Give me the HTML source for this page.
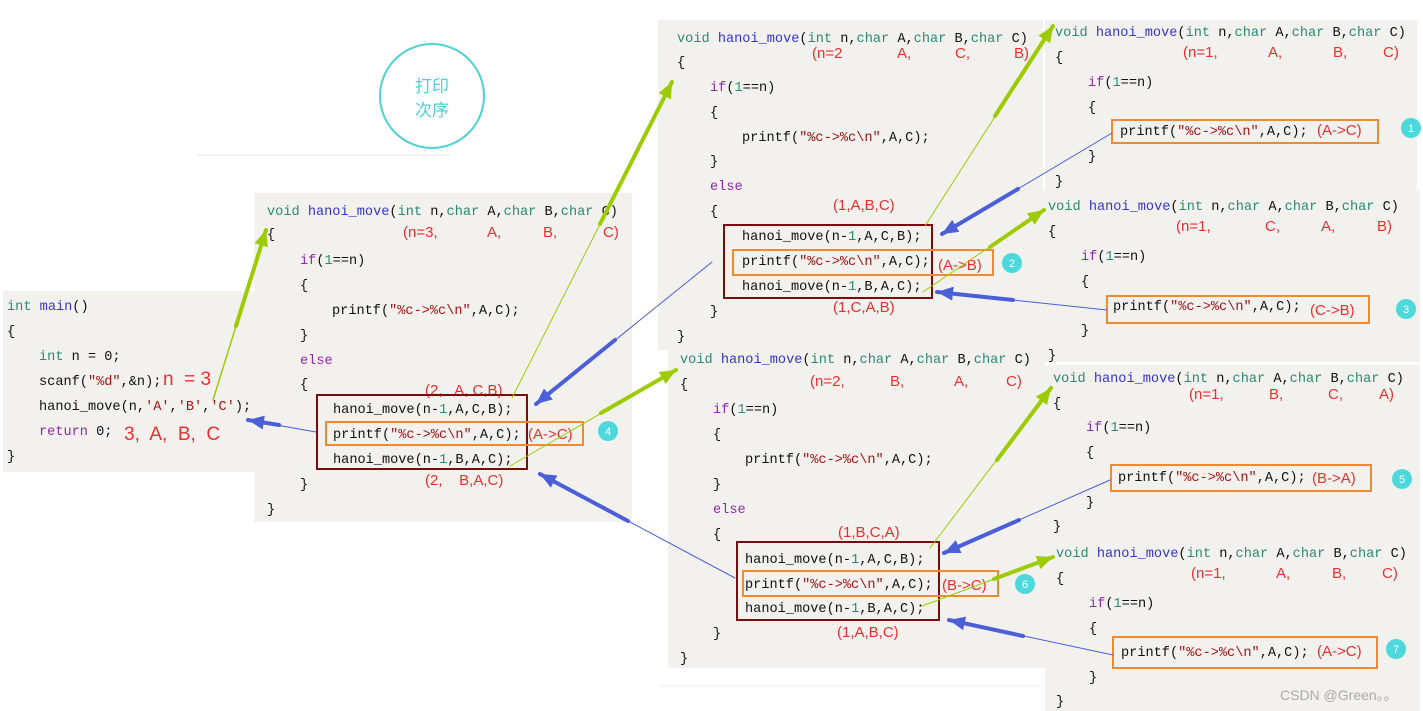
<!DOCTYPE html>
<html><head><meta charset="utf-8"><style>
html,body{margin:0;padding:0;background:#fff;}
svg{display:block;}
.c{font-family:"Liberation Mono",monospace;font-size:13.6px;fill:#111;white-space:pre;}
.k{fill:#2b8a6e}.f{fill:#3434d0}.p{fill:#8f2aa8}.s{fill:#a31515}.n{fill:#2b8a6e}
.r{font-family:"Liberation Sans",sans-serif;font-size:15px;fill:#e8302f;white-space:pre;}
.num{font-family:"Liberation Sans",sans-serif;font-size:11px;fill:#fff;text-anchor:middle;}
</style></head><body>
<svg width="1423" height="711" viewBox="0 0 1423 711" xmlns="http://www.w3.org/2000/svg">
<defs>
<marker id="mg" markerUnits="userSpaceOnUse" markerWidth="18" markerHeight="14" refX="16" refY="7" orient="auto"><path d="M0,0 L16,7 L0,14 Z" fill="#9ccc00"/></marker>
<marker id="mb" markerUnits="userSpaceOnUse" markerWidth="18" markerHeight="14" refX="16" refY="7" orient="auto"><path d="M0,0 L16,7 L0,14 Z" fill="#4a5fd8"/></marker>
</defs>
<!-- panels -->
<g fill="#f2f1ee">
<rect x="3" y="291" width="253" height="181"/>
<rect x="254" y="193" width="378" height="329"/>
<rect x="658" y="20" width="385" height="330"/>
<rect x="668" y="350" width="377" height="318"/>
<rect x="1045" y="20" width="372" height="170"/>
<rect x="1043" y="190" width="377" height="172"/>
<rect x="1045" y="365" width="375" height="175"/>
<rect x="1045" y="540" width="375" height="171"/>
</g>
<line x1="197" y1="155" x2="450" y2="155" stroke="#eee" stroke-width="1.5"/>
<line x1="660" y1="686" x2="1040" y2="686" stroke="#eee" stroke-width="1"/>
<circle cx="432" cy="96" r="52" fill="none" stroke="#4dd0d6" stroke-width="2"/>
<text x="432" y="92" text-anchor="middle" style="font-family:'Noto Sans CJK SC',sans-serif;font-size:17px;fill:#4dd0d6">打印</text>
<text x="432" y="116" text-anchor="middle" style="font-family:'Noto Sans CJK SC',sans-serif;font-size:17px;fill:#4dd0d6">次序</text>

<!-- main -->
<text class="c" x="7" y="310"><tspan class="k">int</tspan> <tspan class="f">main</tspan>()</text>
<text class="c" x="7" y="335">{</text>
<text class="c" x="39" y="360"><tspan class="k">int</tspan> n = 0;</text>
<text class="c" x="39" y="385">scanf(<tspan class="s">"%d"</tspan>,&amp;n);</text>
<text class="c" x="39" y="410">hanoi_move(n,<tspan class="s">'A'</tspan>,<tspan class="s">'B'</tspan>,<tspan class="s">'C'</tspan>);</text>
<text class="c" x="39" y="435"><tspan class="p">return</tspan> 0;</text>
<text class="c" x="7" y="460">}</text>
<text class="r" x="163" y="385" style="font-size:19px">n  = 3</text>
<text class="r" x="124" y="440" style="font-size:19px">3,  A,  B,  C</text>

<!-- P3 -->
<text class="c" x="267" y="215"><tspan class="k">void</tspan> <tspan class="f">hanoi_move</tspan>(<tspan class="k">int</tspan> n,<tspan class="k">char</tspan> A,<tspan class="k">char</tspan> B,<tspan class="k">char</tspan> C)</text>
<text class="c" x="267" y="238">{</text>
<text class="c" x="300" y="264"><tspan class="p">if</tspan>(<tspan class="n">1</tspan>==n)</text>
<text class="c" x="300" y="289">{</text>
<text class="c" x="332" y="314">printf(<tspan class="s">"%c-&gt;%c\n"</tspan>,A,C);</text>
<text class="c" x="300" y="339">}</text>
<text class="c p" x="300" y="364">else</text>
<text class="c" x="300" y="388">{</text>
<text class="c" x="333" y="413">hanoi_move(n-<tspan class="n">1</tspan>,A,C,B);</text>
<text class="c" x="333" y="438">printf(<tspan class="s">"%c-&gt;%c\n"</tspan>,A,C);</text>
<text class="c" x="333" y="463">hanoi_move(n-<tspan class="n">1</tspan>,B,A,C);</text>
<text class="c" x="300" y="488">}</text>
<text class="c" x="267" y="513">}</text>
<text class="r" x="403" y="237">(n=3,</text><text class="r" x="487" y="237">A,</text><text class="r" x="543" y="237">B,</text><text class="r" x="603" y="237">C)</text>
<text class="r" x="425" y="395">(2,   A, C,B)</text>
<text class="r" x="425" y="485">(2,    B,A,C)</text>
<rect x="317" y="395" width="210" height="74" fill="none" stroke="#7b0c0c" stroke-width="2"/>
<rect x="326" y="422" width="257" height="23" fill="none" stroke="#f08a30" stroke-width="2"/>
<text class="r" x="528" y="439">(A-&gt;C)</text>
<circle cx="608" cy="431" r="10" fill="#4dd8dc"/><text class="num" x="608" y="435">4</text>

<!-- P2a -->
<text class="c" x="677" y="42"><tspan class="k">void</tspan> <tspan class="f">hanoi_move</tspan>(<tspan class="k">int</tspan> n,<tspan class="k">char</tspan> A,<tspan class="k">char</tspan> B,<tspan class="k">char</tspan> C)</text>
<text class="c" x="677" y="66">{</text>
<text class="c" x="710" y="91"><tspan class="p">if</tspan>(<tspan class="n">1</tspan>==n)</text>
<text class="c" x="710" y="116">{</text>
<text class="c" x="742" y="141">printf(<tspan class="s">"%c-&gt;%c\n"</tspan>,A,C);</text>
<text class="c" x="710" y="165">}</text>
<text class="c p" x="710" y="190">else</text>
<text class="c" x="710" y="215">{</text>
<text class="c" x="742" y="240">hanoi_move(n-<tspan class="n">1</tspan>,A,C,B);</text>
<text class="c" x="742" y="265">printf(<tspan class="s">"%c-&gt;%c\n"</tspan>,A,C);</text>
<text class="c" x="742" y="290">hanoi_move(n-<tspan class="n">1</tspan>,B,A,C);</text>
<text class="c" x="710" y="315">}</text>
<text class="c" x="677" y="340">}</text>
<text class="r" x="812" y="58">(n=2</text><text class="r" x="897" y="58">A,</text><text class="r" x="955" y="58">C,</text><text class="r" x="1014" y="58">B)</text>
<text class="r" x="833" y="210">(1,A,B,C)</text>
<text class="r" x="833" y="312">(1,C,A,B)</text>
<rect x="724" y="225" width="208" height="73" fill="none" stroke="#7b0c0c" stroke-width="2"/>
<rect x="733" y="250" width="260" height="25" fill="none" stroke="#f08a30" stroke-width="2"/>
<text class="r" x="938" y="270">(A-&gt;B)</text>
<circle cx="1012" cy="263" r="10" fill="#4dd8dc"/><text class="num" x="1012" y="267">2</text>

<!-- P2b -->
<text class="c" x="680" y="363"><tspan class="k">void</tspan> <tspan class="f">hanoi_move</tspan>(<tspan class="k">int</tspan> n,<tspan class="k">char</tspan> A,<tspan class="k">char</tspan> B,<tspan class="k">char</tspan> C)</text>
<text class="c" x="680" y="388">{</text>
<text class="c" x="713" y="413"><tspan class="p">if</tspan>(<tspan class="n">1</tspan>==n)</text>
<text class="c" x="713" y="438">{</text>
<text class="c" x="745" y="463">printf(<tspan class="s">"%c-&gt;%c\n"</tspan>,A,C);</text>
<text class="c" x="713" y="488">}</text>
<text class="c p" x="713" y="513">else</text>
<text class="c" x="713" y="538">{</text>
<text class="c" x="745" y="563">hanoi_move(n-<tspan class="n">1</tspan>,A,C,B);</text>
<text class="c" x="745" y="588">printf(<tspan class="s">"%c-&gt;%c\n"</tspan>,A,C);</text>
<text class="c" x="745" y="612">hanoi_move(n-<tspan class="n">1</tspan>,B,A,C);</text>
<text class="c" x="713" y="637">}</text>
<text class="c" x="680" y="662">}</text>
<text class="r" x="810" y="386">(n=2,</text><text class="r" x="890" y="386">B,</text><text class="r" x="954" y="386">A,</text><text class="r" x="1006" y="386">C)</text>
<text class="r" x="838" y="537">(1,B,C,A)</text>
<text class="r" x="837" y="637">(1,A,B,C)</text>
<rect x="737" y="542" width="202" height="78" fill="none" stroke="#7b0c0c" stroke-width="2"/>
<rect x="743" y="571" width="255" height="25" fill="none" stroke="#f08a30" stroke-width="2"/>
<text class="r" x="942" y="590">(B-&gt;C)</text>
<circle cx="1025" cy="584" r="10" fill="#4dd8dc"/><text class="num" x="1025" y="588">6</text>

<!-- P1a -->
<text class="c" x="1055" y="36"><tspan class="k">void</tspan> <tspan class="f">hanoi_move</tspan>(<tspan class="k">int</tspan> n,<tspan class="k">char</tspan> A,<tspan class="k">char</tspan> B,<tspan class="k">char</tspan> C)</text>
<text class="c" x="1055" y="61">{</text>
<text class="c" x="1088" y="86"><tspan class="p">if</tspan>(<tspan class="n">1</tspan>==n)</text>
<text class="c" x="1088" y="111">{</text>
<text class="c" x="1120" y="135">printf(<tspan class="s">"%c-&gt;%c\n"</tspan>,A,C);</text>
<text class="c" x="1088" y="160">}</text>
<text class="c" x="1055" y="185">}</text>
<text class="r" x="1183" y="57">(n=1,</text><text class="r" x="1268" y="57">A,</text><text class="r" x="1333" y="57">B,</text><text class="r" x="1383" y="57">C)</text>
<rect x="1112" y="120" width="266" height="23" fill="none" stroke="#f08a30" stroke-width="2"/>
<text class="r" x="1317" y="135">(A-&gt;C)</text>
<circle cx="1411" cy="128" r="10" fill="#4dd8dc"/><text class="num" x="1411" y="132">1</text>

<!-- P1b -->
<text class="c" x="1048" y="210"><tspan class="k">void</tspan> <tspan class="f">hanoi_move</tspan>(<tspan class="k">int</tspan> n,<tspan class="k">char</tspan> A,<tspan class="k">char</tspan> B,<tspan class="k">char</tspan> C)</text>
<text class="c" x="1048" y="235">{</text>
<text class="c" x="1081" y="260"><tspan class="p">if</tspan>(<tspan class="n">1</tspan>==n)</text>
<text class="c" x="1081" y="285">{</text>
<text class="c" x="1113" y="310">printf(<tspan class="s">"%c-&gt;%c\n"</tspan>,A,C);</text>
<text class="c" x="1081" y="334">}</text>
<text class="c" x="1048" y="359">}</text>
<text class="r" x="1176" y="231">(n=1,</text><text class="r" x="1265" y="231">C,</text><text class="r" x="1321" y="231">A,</text><text class="r" x="1377" y="231">B)</text>
<rect x="1107" y="296" width="262" height="27" fill="none" stroke="#f08a30" stroke-width="2"/>
<text class="r" x="1310" y="315">(C-&gt;B)</text>
<circle cx="1406" cy="309" r="10" fill="#4dd8dc"/><text class="num" x="1406" y="313">3</text>

<!-- P1c -->
<text class="c" x="1053" y="382"><tspan class="k">void</tspan> <tspan class="f">hanoi_move</tspan>(<tspan class="k">int</tspan> n,<tspan class="k">char</tspan> A,<tspan class="k">char</tspan> B,<tspan class="k">char</tspan> C)</text>
<text class="c" x="1053" y="407">{</text>
<text class="c" x="1086" y="431"><tspan class="p">if</tspan>(<tspan class="n">1</tspan>==n)</text>
<text class="c" x="1086" y="456">{</text>
<text class="c" x="1118" y="481">printf(<tspan class="s">"%c-&gt;%c\n"</tspan>,A,C);</text>
<text class="c" x="1086" y="506">}</text>
<text class="c" x="1053" y="530">}</text>
<text class="r" x="1189" y="399">(n=1,</text><text class="r" x="1269" y="399">B,</text><text class="r" x="1328" y="399">C,</text><text class="r" x="1379" y="399">A)</text>
<rect x="1111" y="465" width="260" height="26" fill="none" stroke="#f08a30" stroke-width="2"/>
<text class="r" x="1312" y="483">(B-&gt;A)</text>
<circle cx="1402" cy="479" r="10" fill="#4dd8dc"/><text class="num" x="1402" y="483">5</text>

<!-- P1d -->
<text class="c" x="1056" y="557"><tspan class="k">void</tspan> <tspan class="f">hanoi_move</tspan>(<tspan class="k">int</tspan> n,<tspan class="k">char</tspan> A,<tspan class="k">char</tspan> B,<tspan class="k">char</tspan> C)</text>
<text class="c" x="1056" y="582">{</text>
<text class="c" x="1089" y="607"><tspan class="p">if</tspan>(<tspan class="n">1</tspan>==n)</text>
<text class="c" x="1089" y="632">{</text>
<text class="c" x="1121" y="656">printf(<tspan class="s">"%c-&gt;%c\n"</tspan>,A,C);</text>
<text class="c" x="1089" y="681">}</text>
<text class="c" x="1056" y="705">}</text>
<text class="r" x="1191" y="578">(n=1,</text><text class="r" x="1276" y="578">A,</text><text class="r" x="1332" y="578">B,</text><text class="r" x="1382" y="578">C)</text>
<rect x="1113" y="637" width="264" height="31" fill="none" stroke="#f08a30" stroke-width="2"/>
<text class="r" x="1317" y="656">(A-&gt;C)</text>
<circle cx="1396" cy="649" r="10" fill="#4dd8dc"/><text class="num" x="1396" y="653">7</text>
<text x="1280" y="700" style="font-family:'Liberation Sans','Noto Sans CJK SC',sans-serif;font-size:14px;fill:#aaa">CSDN @Green。。</text>

<!-- green arrows -->
<g stroke="#9ccc00" fill="none" stroke-linecap="round">
<line x1="213" y1="400" x2="266" y2="230" stroke-width="1.5"/><line x1="236" y1="326" x2="266" y2="230" stroke-width="4" marker-end="url(#mg)"/>
<line x1="512" y1="398" x2="672" y2="82" stroke-width="1"/><line x1="600" y1="224" x2="672" y2="82" stroke-width="4" marker-end="url(#mg)"/>
<line x1="510" y1="466" x2="676" y2="370" stroke-width="1"/><line x1="601" y1="413" x2="676" y2="370" stroke-width="4" marker-end="url(#mg)"/>
<line x1="925" y1="226" x2="1053" y2="26" stroke-width="1"/><line x1="995" y1="116" x2="1053" y2="26" stroke-width="4" marker-end="url(#mg)"/>
<line x1="923" y1="292" x2="1044" y2="210" stroke-width="1"/><line x1="990" y1="247" x2="1044" y2="210" stroke-width="4" marker-end="url(#mg)"/>
<line x1="930" y1="548" x2="1051" y2="388" stroke-width="1"/><line x1="997" y1="460" x2="1051" y2="388" stroke-width="4" marker-end="url(#mg)"/>
<line x1="922" y1="606" x2="1053" y2="557" stroke-width="1"/><line x1="994" y1="579" x2="1053" y2="557" stroke-width="4" marker-end="url(#mg)"/>
</g>
<!-- blue arrows -->
<g stroke="#4a5fd8" fill="none" stroke-linecap="round">
<line x1="316" y1="432" x2="248" y2="420" stroke-width="1"/><line x1="279" y1="425" x2="248" y2="420" stroke-width="4" marker-end="url(#mb)"/>
<line x1="712" y1="262" x2="536" y2="404" stroke-width="1"/><line x1="615" y1="340" x2="536" y2="404" stroke-width="4" marker-end="url(#mb)"/>
<line x1="735" y1="578" x2="540" y2="474" stroke-width="1"/><line x1="628" y1="521" x2="540" y2="474" stroke-width="4" marker-end="url(#mb)"/>
<line x1="1112" y1="133" x2="942" y2="234" stroke-width="1"/><line x1="1018" y1="189" x2="942" y2="234" stroke-width="4" marker-end="url(#mb)"/>
<line x1="1107" y1="310" x2="937" y2="292" stroke-width="1"/><line x1="1013" y1="300" x2="937" y2="292" stroke-width="4" marker-end="url(#mb)"/>
<line x1="1110" y1="480" x2="944" y2="553" stroke-width="1"/><line x1="1019" y1="520" x2="944" y2="553" stroke-width="4" marker-end="url(#mb)"/>
<line x1="1113" y1="655" x2="949" y2="620" stroke-width="1"/><line x1="1023" y1="636" x2="949" y2="620" stroke-width="4" marker-end="url(#mb)"/>
</g>
</svg>
</body></html>
